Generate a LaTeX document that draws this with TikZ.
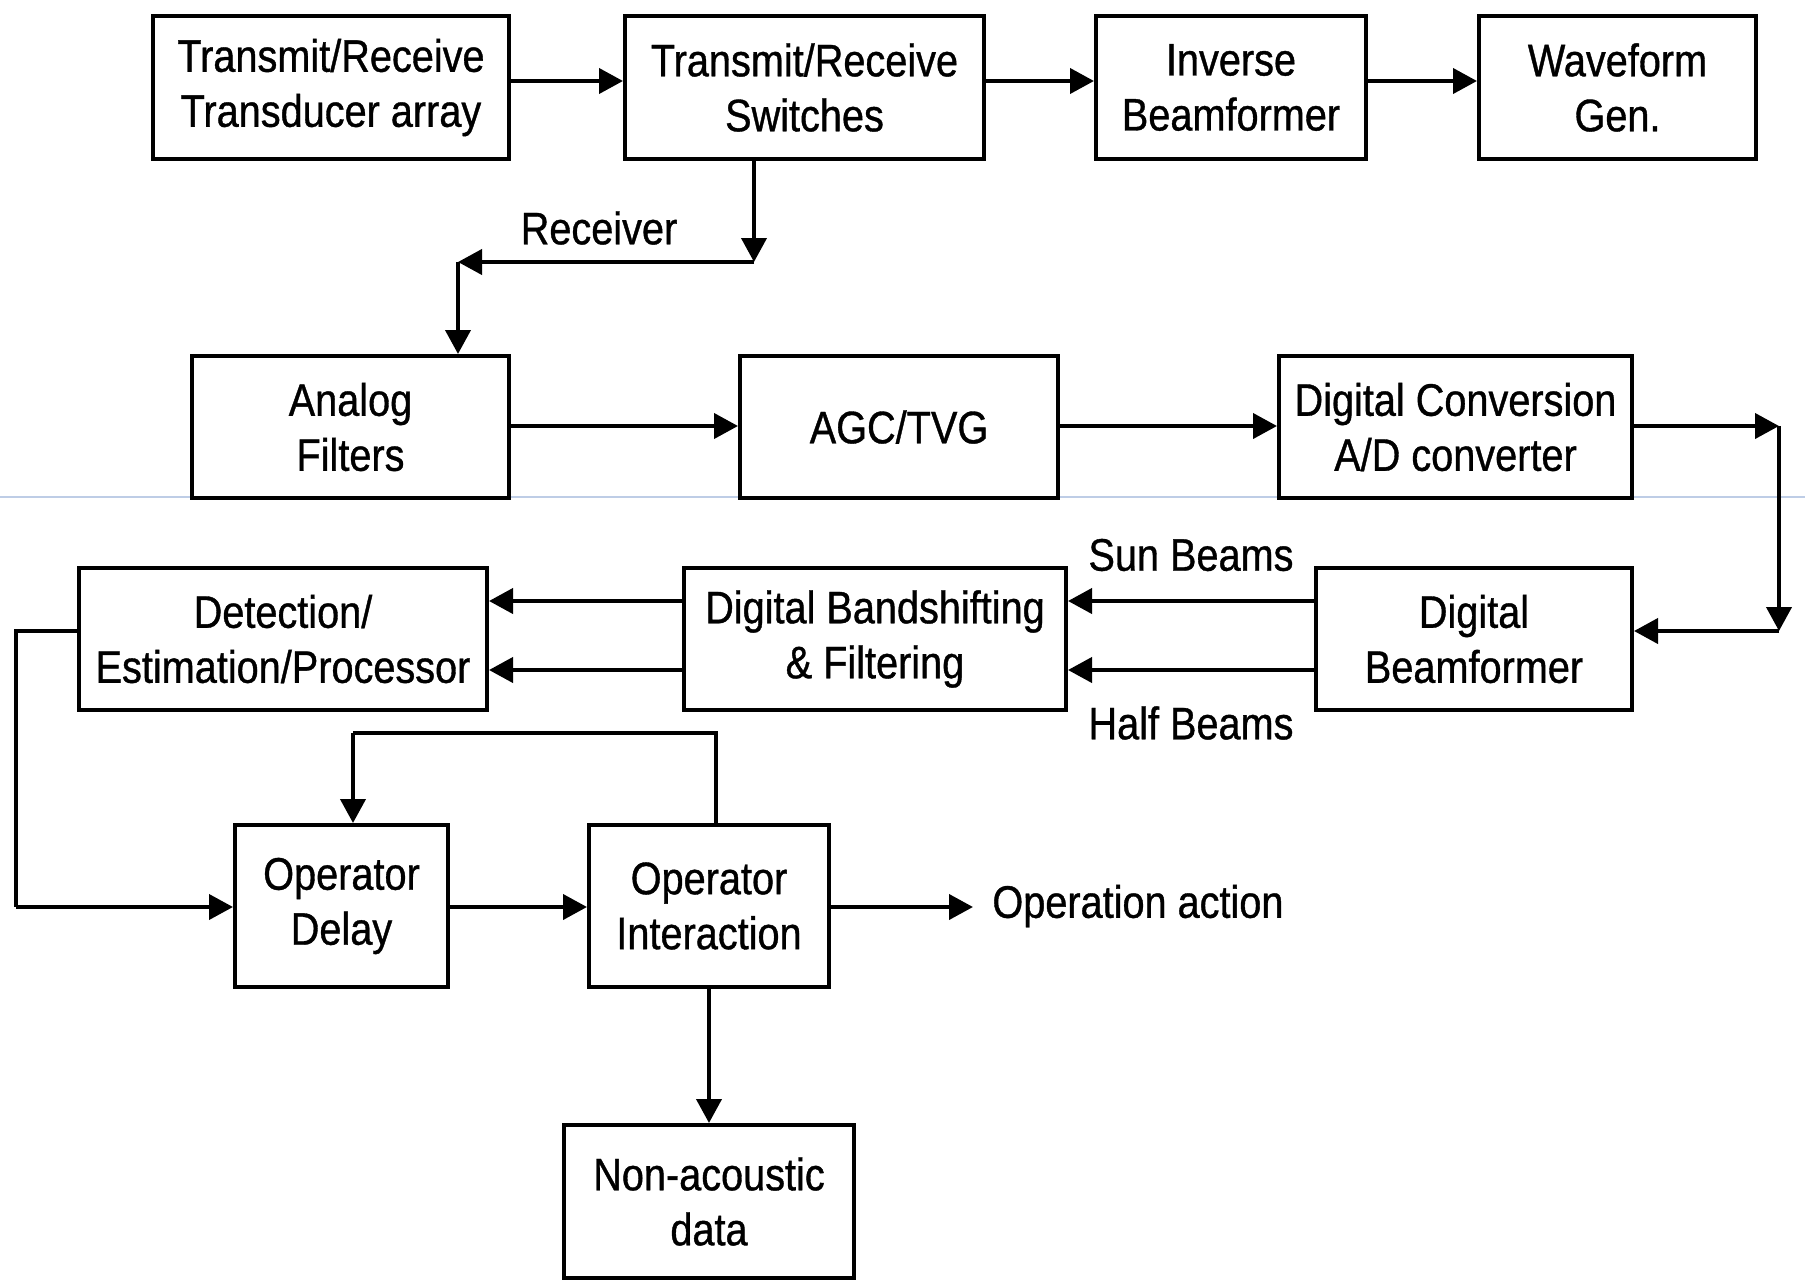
\documentclass[tikz,border=0pt]{standalone}
\usepackage{fontspec}
\setmainfont[FakeStretch=0.87,FakeBold=0.8]{Liberation Sans}
\usetikzlibrary{arrows.meta}
\begin{document}
\begin{tikzpicture}[x=0.5pt,y=-0.5pt,
  blk/.style={draw,line width=2pt,inner sep=0pt,align=center,
    font=\fontsize{22.8}{27.5}\selectfont},
  lbl/.style={inner sep=0pt,font=\fontsize{22.8}{27.5}\selectfont},
  wire/.style={line width=2pt},
  arr/.style={line width=2pt,-{Triangle[length=12pt,width=12.5pt]}}]
\fill[white] (0,0) rectangle (1805,1280);
\useasboundingbox (0,0) rectangle (1805,1280);
% faint horizontal rule across the sheet
\draw[line width=0.6pt,color={rgb,255:red,190;green,205;blue,230}] (0,497) -- (1805,497);

% row 1
\node[blk,minimum width=178pt,minimum height=71.5pt] (tda) at (331,87.5) {Transmit/Receive\\Transducer array};
\node[blk,minimum width=179.5pt,minimum height=71.5pt] (trs) at (804.5,87.5) {Transmit/Receive\\Switches};
\node[blk,minimum width=135pt,minimum height=71.5pt] (ibf) at (1231,87.5) {Inverse\\Beamformer};
\node[blk,minimum width=138.5pt,minimum height=71.5pt] (wfg) at (1617.5,87.5) {Waveform\\Gen.};
% row 2
\node[blk,minimum width=158.5pt,minimum height=71pt] (anf) at (350.5,427) {Analog\\Filters};
\node[blk,minimum width=159pt,minimum height=71pt] (agc) at (899,427) {AGC/TVG};
\node[blk,minimum width=176.5pt,minimum height=71pt] (adc) at (1455.5,427) {Digital Conversion\\A/D converter};
% row 3
\node[blk,minimum width=204pt,minimum height=71pt] (det) at (283,639) {Detection/\\Estimation/Processor};
\node[blk,minimum width=191pt,minimum height=71pt] (dbs) at (875,639) {Digital Bandshifting\\\& Filtering};
\node[blk,minimum width=158pt,minimum height=71pt] (dbf) at (1474,639) {Digital\\Beamformer};
% row 4
\node[blk,minimum width=106.5pt,minimum height=81pt] (opd) at (341.5,906) {Operator\\Delay};
\node[blk,minimum width=120pt,minimum height=81pt] (opi) at (709,906) {Operator\\Interaction};
\node[blk,minimum width=145pt,minimum height=76.5pt] (nad) at (709,1201.5) {Non-acoustic\\data};

% helper coordinates for bends and rows
\coordinate (r1) at (0,81);
\coordinate (r2) at (0,426);
\coordinate (sunrow) at (0,601);
\coordinate (halfrow) at (0,670);
\coordinate (r4) at (0,907);
\coordinate (rxa) at (754,262);
\coordinate (rxb) at (458,262);
\coordinate (lpa) at (1779,426);
\coordinate (lpb) at (1779,631);
\coordinate (dla) at (16,631);
\coordinate (dlb) at (16,907);
\coordinate (fba) at (716,733);
\coordinate (fbb) at (353,733);
\coordinate (act) at (973,907);

% transmit chain
\draw[arr] (tda.east |- r1) -- (trs.west |- r1);
\draw[arr] (trs.east |- r1) -- (ibf.west |- r1);
\draw[arr] (ibf.east |- r1) -- (wfg.west |- r1);

% receiver path
\draw[arr] (trs.south -| rxa) -- (rxa);
\draw[arr] (rxa) -- (rxb);
\draw[arr] (rxb) -- (anf.north -| rxb);
\node[lbl] (rcv) at (599,228) {Receiver};

% analog / digital chain
\draw[arr] (anf.east |- r2) -- (agc.west |- r2);
\draw[arr] (agc.east |- r2) -- (adc.west |- r2);
\draw[arr] (adc.east |- lpa) -- (lpa);
\draw[arr] (lpa) -- (lpb);
\draw[arr] (lpb) -- (dbf.east |- lpb);

% beams
\draw[arr] (dbf.west |- sunrow) -- (dbs.east |- sunrow);
\draw[arr] (dbf.west |- halfrow) -- (dbs.east |- halfrow);
\node[lbl] (sun) at (1191,555) {Sun Beams};
\node[lbl] (half) at (1191,723) {Half Beams};
\draw[arr] (dbs.west |- sunrow) -- (det.east |- sunrow);
\draw[arr] (dbs.west |- halfrow) -- (det.east |- halfrow);

% operator section
\draw[wire] (det.west |- dla) -- (dla) -- (dlb);
\draw[arr] (dlb) -- (opd.west |- dlb);
\draw[arr] (opd.east |- r4) -- (opi.west |- r4);
\draw[wire] (opi.north -| fba) -- (fba) -- (fbb);
\draw[arr] (fbb) -- (opd.north -| fbb);
\draw[arr] (opi.east |- r4) -- (act);
\node[lbl,anchor=west] (oact) at (992,906) {Operation action};
\draw[arr] (opi.south) -- (nad.north);
\end{tikzpicture}
\end{document}
